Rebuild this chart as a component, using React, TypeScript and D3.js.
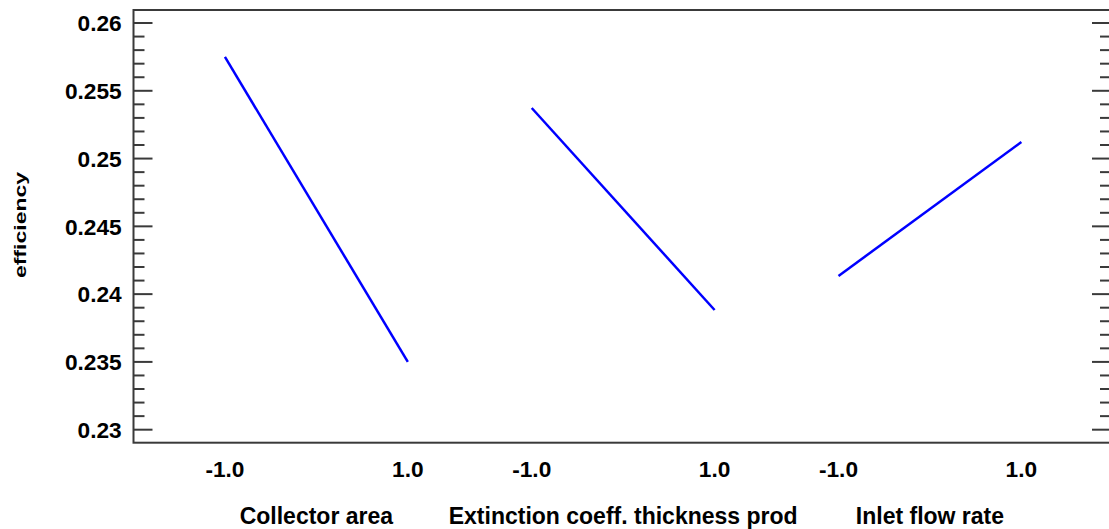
import React from "react";
import * as d3 from "d3";

const factors = ["Collector area", "Extinction coeff. thickness prod", "Inlet flow rate"];
const levels = [-1, 1];
const levelLabels = ["-1.0", "1.0"];
const collectorArea = [0.2575, 0.235];
const extinctionCoeff = [0.25373, 0.23883];
const inletFlowRate = [0.24134, 0.25122];
const seriesValues = [collectorArea, extinctionCoeff, inletFlowRate];
const yTickLabels = ["0.23", "0.235", "0.24", "0.245", "0.25", "0.255", "0.26"];
const yLabel = "efficiency";

const W = 1109;
const H = 529;
const L = 133.5;
const R = 1111;
const T = 10;
const B = 442.7;
const factorOffset = 3.355;

export default function App() {
  const x = d3.scaleLinear().domain([-2, 2 * factorOffset + 1.98]).range([L, R]);
  const y = d3.scaleLinear().domain([0.22904, 0.26096]).range([B, T]);
  const line = d3
    .line<[number, number]>()
    .x((d) => x(d[0]))
    .y((d) => y(d[1]));

  const majors = yTickLabels.map((s) => +s);
  const minors = d3.range(230, 261).map((v) => v / 1000).filter((v) => !majors.some((m) => Math.abs(m - v) < 1e-9));

  const font = "'Liberation Sans', Arial, sans-serif";
  const frameColor = "#3a3a3a";

  return (
    <svg
      width={W}
      height={H}
      style={{ position: "absolute", left: 0, top: 0, background: "#fff" }}
      fontFamily={font}
      fontWeight="bold"
    >
      <rect x={0} y={0} width={W} height={H} fill="#fff" />
      {/* frame */}
      <rect x={L} y={T} width={R - L} height={B - T} fill="none" stroke={frameColor} strokeWidth={2} />
      {/* y ticks */}
      {majors.map((v, i) => (
        <g key={"M" + i}>
          <line x1={L} x2={L + 19} y1={y(v)} y2={y(v)} stroke={frameColor} strokeWidth={2} />
          <line x1={R - 19} x2={R} y1={y(v)} y2={y(v)} stroke={frameColor} strokeWidth={2} />
          <text x={121.7} y={y(v)} dy="0.36em" textAnchor="end" fontSize={22.7} fill="#000">
            {yTickLabels[i]}
          </text>
        </g>
      ))}
      {minors.map((v, i) => (
        <g key={"m" + i}>
          <line x1={L} x2={L + 11} y1={y(v)} y2={y(v)} stroke={frameColor} strokeWidth={2} />
          <line x1={R - 11} x2={R} y1={y(v)} y2={y(v)} stroke={frameColor} strokeWidth={2} />
        </g>
      ))}
      {/* y label */}
      <text
        transform={`translate(25.7,${225}) rotate(-90) scale(1.44,1)`}
        textAnchor="middle"
        fontSize={16}
        fill="#000"
      >
        {yLabel}
      </text>
      {/* series */}
      {factors.map((f, i) => {
        const off = i * factorOffset;
        const pts: [number, number][] = levels.map((l, j) => [l + off, seriesValues[i][j]]);
        return (
          <g key={f}>
            <path d={line(pts) || ""} fill="none" stroke="#0000ff" strokeWidth={2.5} />
            {levels.map((l, j) => (
              <text key={j} x={x(l + off)} y={477} textAnchor="middle" fontSize={22.7} fill="#000">
                {levelLabels[j]}
              </text>
            ))}
            <text x={x(off)} y={524} textAnchor="middle" fontSize={23} fill="#000">
              {f}
            </text>
          </g>
        );
      })}
    </svg>
  );
}
